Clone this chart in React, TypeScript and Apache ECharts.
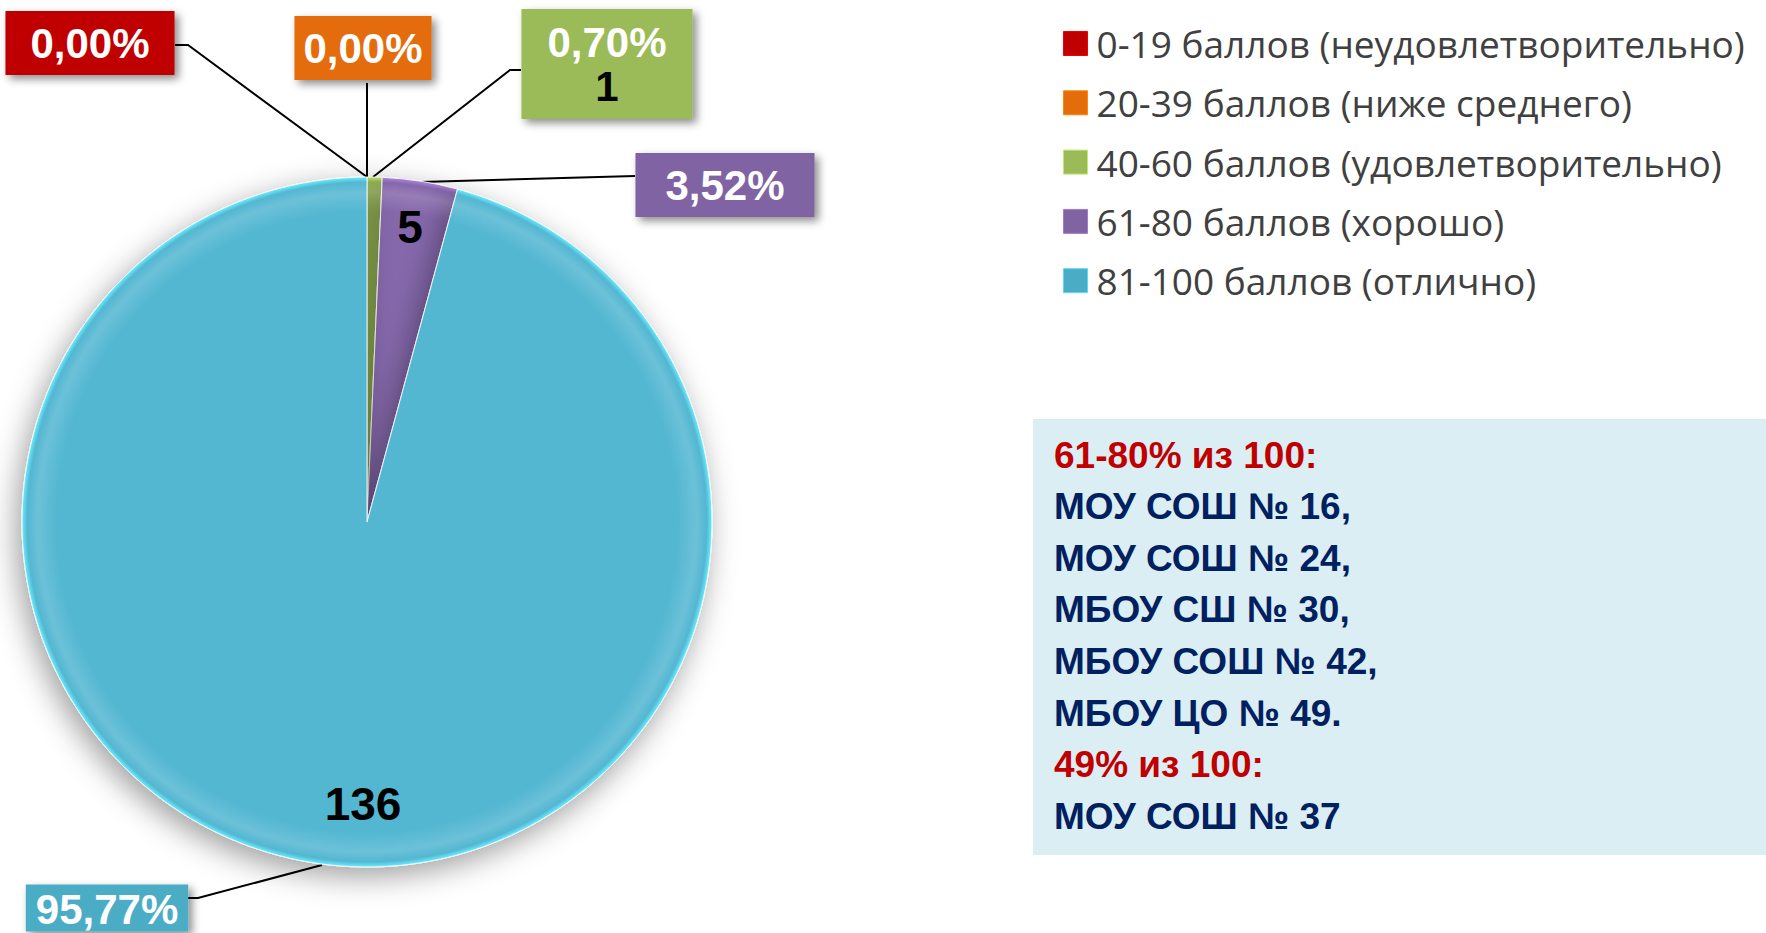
import React, { useEffect, useRef } from "react";
import * as echarts from "echarts";

// ---- data ----
const categories = [
  "0-19 баллов (неудовлетворительно)",
  "20-39 баллов (ниже среднего)",
  "40-60 баллов (удовлетворительно)",
  "61-80 баллов (хорошо)",
  "81-100 баллов (отлично)",
];
const counts = [0, 0, 1, 5, 136];
const countInBox = [false, false, true, false, false];
const countInside = [false, false, false, true, true];

const noteLines = [
  { text: "61-80% из 100:", accent: true },
  { text: "МОУ СОШ № 16,", accent: false },
  { text: "МОУ СОШ № 24,", accent: false },
  { text: "МБОУ СШ № 30,", accent: false },
  { text: "МБОУ СОШ № 42,", accent: false },
  { text: "МБОУ ЦО № 49.", accent: false },
  { text: "49% из 100:", accent: true },
  { text: "МОУ СОШ № 37", accent: false },
];

// ---- styles / layout ----
const sliceColors = ["#C00000", "#E46C0A", "#9BBB59", "#8567AB", "#53B7D2"];
const boxColors = ["#C00000", "#E46C0A", "#9BBB59", "#8064A2", "#4BACC6"];
const boxPadding = [
  [10, 25],
  [10, 9],
  [11, 26],
  [10, 30],
  [6, 10, 3, 10],
];
const boxCenters = [
  [90, 43],
  [363, 48],
  [607, 64],
  [725, 185],
  [107, 908],
];
const leaderPoints = [
  [[367, 177], [188, 45], [175, 45]],
  [[367, 177], [367, 83], [367, 83]],
  [[373, 177], [510, 70], [521, 70]],
  [[421, 182], [635, 176], [635, 176]],
  [[322, 865], [198, 898], [187, 898]],
];
const innerCenters = [
  [0, 0],
  [0, 0],
  [0, 0],
  [410, 227],
  [363, 804],
];

const CX = 367;
const CY = 522;
const R = 345;
const LABEL_FONT = '"Liberation Sans", Arial, sans-serif';

const total = counts.reduce((a, b) => a + b, 0);
const pct = (v: number) => ((v / total) * 100).toFixed(2).replace(".", ",") + "%";

const radial = (c: string) => ({
  type: "radial",
  x: CX,
  y: CY,
  r: R,
  global: true,
  colorStops: [
    { offset: 0, color: c },
    { offset: 0.9, color: c },
    { offset: 0.955, color: echarts.color.lift(c, 0.15) },
    { offset: 0.985, color: c },
    { offset: 1, color: echarts.color.lift(c, -0.3) },
  ],
});

function buildOption() {
  const dataA = categories.map((name, i) => ({
    name,
    value: counts[i],
    itemStyle: { color: radial(sliceColors[i]) },
    label: { backgroundColor: boxColors[i], padding: boxPadding[i] },
  }));
  const dataB = categories.map((name, i) => ({
    name,
    value: counts[i],
    label: { show: countInside[i] },
  }));

  return {
    animation: false,
    backgroundColor: "#ffffff",
    legend: {
      orient: "vertical",
      left: 1058,
      top: 20,
      itemWidth: 24,
      itemHeight: 24,
      itemGap: 22.3,
      icon: "rect",
      selectedMode: false,
      textStyle: {
        fontFamily: '"Open Sans", sans-serif',
        fontSize: 37,
        lineHeight: 34,
        color: "#404040",
        padding: [0, 0, 0, 4],
      },
      data: categories.map((name, i) => ({
        name,
        itemStyle: { color: boxColors[i], borderColor: echarts.color.lift(boxColors[i], -0.25), borderWidth: 1 },
      })),
    },
    graphic: [
      {
        type: "rect",
        shape: { x: 1033, y: 419, width: 733, height: 436 },
        style: { fill: "#DAEEF3" },
        z: 0,
      },
      ...noteLines.map((l, i) => ({
        type: "text",
        x: 1054,
        y: 455 + i * 51.6,
        z: 1,
        style: {
          text: l.text,
          fill: l.accent ? "#C00000" : "#002060",
          fontSize: 37,
          fontWeight: "bold",
          fontFamily: LABEL_FONT,
          verticalAlign: "middle",
        },
      })),
    ],
    series: [
      {
        type: "pie",
        center: [CX, CY],
        radius: [0, R],
        startAngle: 90,
        clockwise: true,
        avoidLabelOverlap: false,
        itemStyle: {
          borderColor: "rgba(255,255,255,0.85)",
          borderWidth: 1,
          shadowBlur: 30,
          shadowColor: "rgba(0,0,0,0.38)",
          shadowOffsetX: -5,
          shadowOffsetY: 9,
        },
        label: {
          show: true,
          position: "outside",
          fontFamily: LABEL_FONT,
          fontWeight: "bold",
          fontSize: 42,
          color: "#fff",
          shadowColor: "rgba(0,0,0,0.45)",
          shadowBlur: 8,
          shadowOffsetX: 4,
          shadowOffsetY: 4,
          formatter: (p: any) => {
            const i = p.dataIndex;
            if (countInBox[i]) return `{p|${pct(p.value)}}\n{n|${p.value}}`;
            if (i === categories.length - 1) return `{q|${pct(p.value)}}`;
            return `{p|${pct(p.value)}}`;
          },
          rich: {
            p: { color: "#fff", fontSize: 42, fontWeight: "bold", fontFamily: LABEL_FONT, lineHeight: 44 },
            q: { color: "#fff", fontSize: 42, fontWeight: "bold", fontFamily: LABEL_FONT, lineHeight: 38 },
            n: { color: "#000", fontSize: 42, fontWeight: "bold", fontFamily: LABEL_FONT, lineHeight: 44 },
          },
        },
        labelLine: {
          show: true,
          smooth: false,
          lineStyle: { color: "#000", width: 2 },
        },
        labelLayout: (params: any) => {
          const i = params.dataIndex;
          return {
            x: boxCenters[i][0],
            y: boxCenters[i][1],
            align: "center",
            verticalAlign: "middle",
            labelLinePoints: leaderPoints[i],
          };
        },
        data: dataA,
        z: 2,
      },
      {
        type: "pie",
        center: [CX, CY],
        radius: [0, R],
        startAngle: 90,
        clockwise: true,
        silent: true,
        legendHoverLink: false,
        avoidLabelOverlap: false,
        itemStyle: { color: "rgba(0,0,0,0)", borderWidth: 0 },
        label: {
          position: "inside",
          formatter: "{c}",
          fontFamily: LABEL_FONT,
          fontWeight: "bold",
          fontSize: 46,
          color: "#000",
        },
        labelLine: { show: false },
        labelLayout: (params: any) => {
          const i = params.dataIndex;
          return {
            x: innerCenters[i][0],
            y: innerCenters[i][1],
            align: "center",
            verticalAlign: "middle",
          };
        },
        data: dataB,
        z: 3,
      },
    ],
  };
}

export default function App() {
  const ref = useRef<HTMLDivElement>(null);
  useEffect(() => {
    document.body.style.margin = "0";
    const chart = echarts.init(ref.current!, null, { renderer: "svg" });
    chart.setOption(buildOption() as any);
    return () => chart.dispose();
  }, []);
  return <div ref={ref} style={{ width: 1766, height: 933 }} />;
}
